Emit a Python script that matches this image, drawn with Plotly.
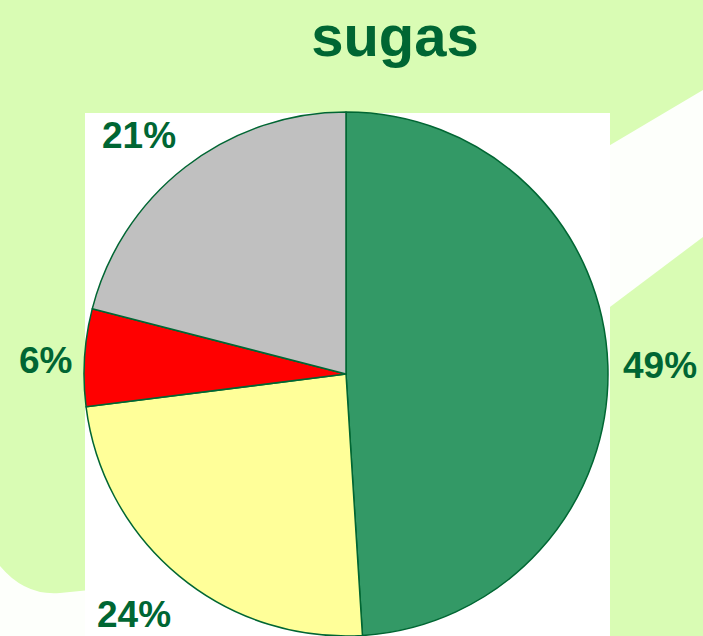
import plotly.graph_objects as go

W, H = 703, 636

labels = ["A", "B", "C", "D"]
values = [49, 24, 6, 21]
colors = ["#339966", "#ffff99", "#ff0000", "#c0c0c0"]
title_text = "sugas"

DARK = "#006633"
BG = "#d9fcb4"

def px(x):
    return x / W

def py(y):
    return 1 - y / H

fig = go.Figure(go.Pie(
    labels=labels,
    values=values,
    sort=False,
    direction="clockwise",
    rotation=0,
    marker=dict(colors=colors, line=dict(color=DARK, width=1.5)),
    textinfo="none",
    domain=dict(x=[px(84), px(608)], y=[py(636), py(112)]),
    hoverinfo="label+percent",
    showlegend=False,
))

# label anchor positions (pixels) for each slice's percentage text
label_pos = [(660, 365), (134, 614), (45, 360), (139, 135)]
total = sum(values)
annotations = []
for v, (lx, ly) in zip(values, label_pos):
    annotations.append(dict(
        text=f"<b>{round(100 * v / total)}%</b>",
        x=px(lx), y=py(ly), xref="paper", yref="paper",
        xanchor="center", yanchor="middle", showarrow=False,
        font=dict(family="Liberation Sans", size=37, color=DARK),
    ))

shapes = [
    # decorative white band upper right
    dict(type="path", xref="paper", yref="paper", layer="below",
         path=f"M {px(590)},{py(157)} L {px(703)},{py(90)} L {px(703)},{py(237)} L {px(590)},{py(322)} Z",
         fillcolor="#ffffff", line=dict(width=0), opacity=0.95),
    # decorative white area lower left
    dict(type="path", xref="paper", yref="paper", layer="below",
         path=f"M {px(0)},{py(566)} Q {px(25)},{py(596)} {px(60)},{py(593)} L {px(90)},{py(590)} L {px(90)},{py(636)} L {px(0)},{py(636)} Z",
         fillcolor="#ffffff", line=dict(width=0), opacity=0.95),
    # white plot area
    dict(type="rect", xref="paper", yref="paper", layer="below",
         x0=px(85), x1=px(610), y0=py(636), y1=py(113),
         fillcolor="#ffffff", line=dict(width=0)),
]

fig.update_layout(
    width=W, height=H,
    autosize=False,
    margin=dict(l=0, r=0, t=0, b=0),
    paper_bgcolor=BG,
    plot_bgcolor=BG,
    shapes=shapes,
    annotations=annotations,
    title=dict(text=f"<b>{title_text}</b>", x=px(395), xanchor="center",
               y=py(36), yanchor="middle",
               font=dict(family="Liberation Sans", size=58, color=DARK)),
)

fig.write_html("out.html",
               config={"displayModeBar": False, "responsive": False},
               post_script=("document.documentElement.style.background='%s';"
                            "document.body.style.background='%s';"
                            "document.body.style.margin='0';"
                            "document.body.style.overflow='hidden';") % (BG, BG))
